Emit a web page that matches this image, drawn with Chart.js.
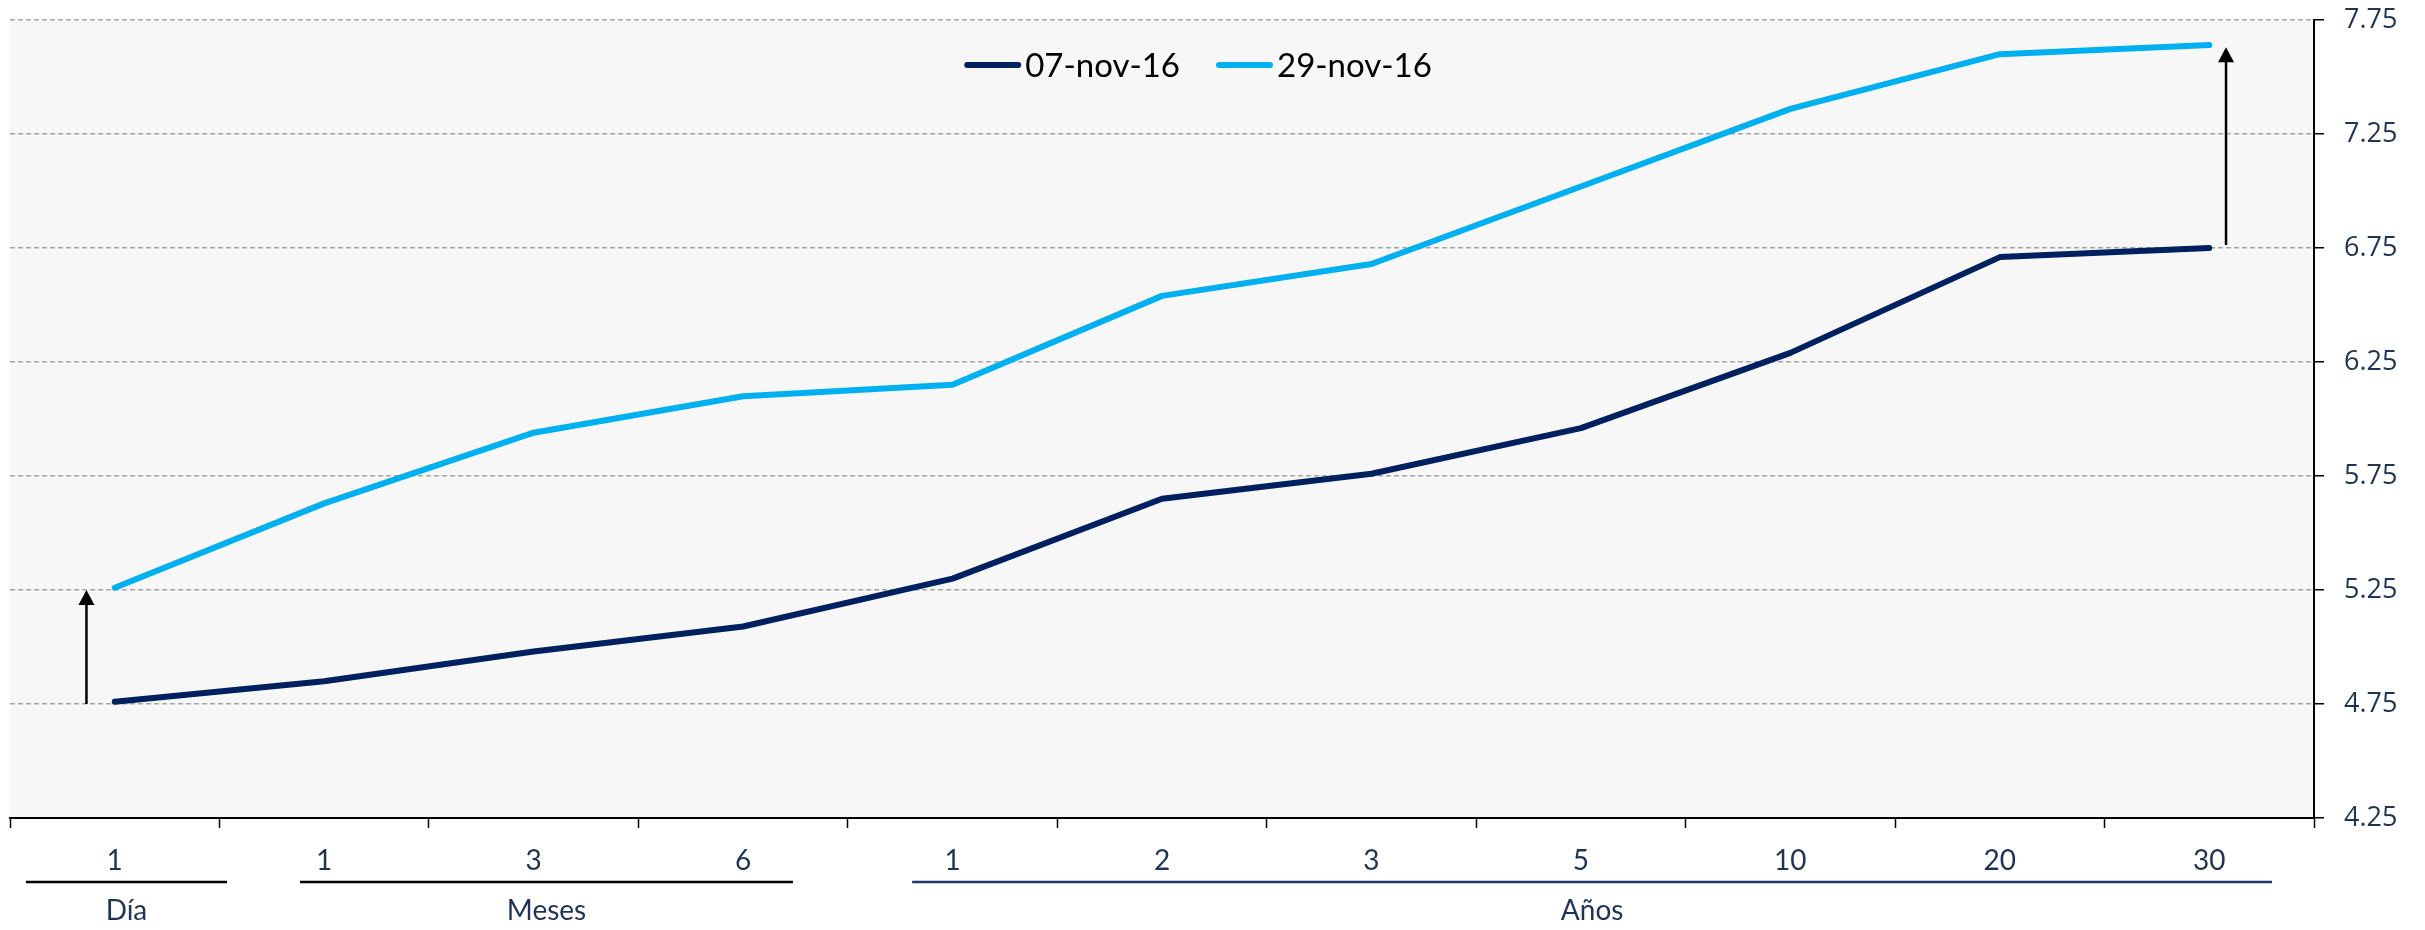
<!DOCTYPE html>
<html lang="es">
<head>
<meta charset="utf-8">
<title>Curva de rendimientos</title>
<script src="https://cdn.jsdelivr.net/npm/chart.js@4.4.1/dist/chart.umd.min.js"></script>
<style>
  html, body { margin: 0; padding: 0; background: #ffffff; }
  #wrap { width: 2425px; height: 930px; }
</style>
</head>
<body>
<div id="wrap"><canvas id="chart" width="2425" height="930"></canvas></div>
<script>
// Plazos (etiquetas del eje horizontal)
const plazos = ['1', '1', '3', '6', '1', '2', '3', '5', '10', '20', '30'];

// Agrupación de los plazos
const grupos = ['Día', 'Meses', 'Años'];

// Series de tasas (%)
const serieNombres = ['07-nov-16', '29-nov-16'];
const tasas07nov = [4.76, 4.85, 4.98, 5.09, 5.30, 5.65, 5.76, 5.96, 6.29, 6.71, 6.75];
const tasas29nov = [5.26, 5.63, 5.94, 6.10, 6.15, 6.54, 6.68, 7.02, 7.36, 7.60, 7.64];

// Eje vertical
const ejeMin = 4.25;
const ejeMax = 7.75;
const ejePaso = 0.5;

const NAVY_TEXT = '#1F3356';
const COLOR_07 = '#002060';
const COLOR_29 = '#00B0F0';

// Fondo blanco y área de trazado gris claro
const fondoPlugin = {
  id: 'fondo',
  beforeDraw(chart) {
    const { ctx, chartArea: a } = chart;
    ctx.save();
    ctx.fillStyle = '#ffffff';
    ctx.fillRect(0, 0, chart.width, chart.height);
    ctx.fillStyle = '#F7F7F7';
    ctx.fillRect(a.left, a.top, a.right - a.left, a.bottom - a.top);
    ctx.restore();
  }
};

// Leyenda dibujada dentro del área de trazado
const leyendaPlugin = {
  id: 'leyendaInterna',
  afterDraw(chart, args, opts) {
    const { ctx } = chart;
    ctx.save();
    ctx.font = opts.font;
    const items = chart.data.datasets.map(ds => ({
      text: ds.label, color: ds.borderColor, w: ctx.measureText(ds.label).width
    }));
    const total = items.reduce((s, it) => s + opts.sample + opts.gap + it.w, 0) + opts.spacing * (items.length - 1);
    let x = opts.centerX - total / 2;
    const y = opts.y;
    items.forEach(it => {
      ctx.strokeStyle = it.color;
      ctx.lineWidth = 6;
      ctx.lineCap = 'round';
      ctx.beginPath();
      ctx.moveTo(x + 3, y);
      ctx.lineTo(x + opts.sample - 3, y);
      ctx.stroke();
      x += opts.sample + opts.gap;
      ctx.fillStyle = '#000000';
      ctx.textAlign = 'left';
      ctx.textBaseline = 'middle';
      ctx.fillText(it.text, x, y + 1);
      x += it.w + opts.spacing;
    });
    ctx.restore();
  }
};

// Flechas que marcan el desplazamiento de la curva
const flechasPlugin = {
  id: 'flechas',
  afterDatasetsDraw(chart, args, opts) {
    const { ctx, scales: { x, y } } = chart;
    ctx.save();
    ctx.strokeStyle = '#000000';
    ctx.fillStyle = '#000000';
    ctx.lineWidth = 2.5;
    opts.items.forEach(f => {
      const px = x.getPixelForValue(f.at);
      const y0 = y.getPixelForValue(f.from);
      const y1 = y.getPixelForValue(f.to);
      const head = 15, half = 8;
      ctx.beginPath();
      ctx.moveTo(px, y0);
      ctx.lineTo(px, y1 + head - 1);
      ctx.stroke();
      ctx.beginPath();
      ctx.moveTo(px, y1);
      ctx.lineTo(px - half, y1 + head);
      ctx.lineTo(px + half, y1 + head);
      ctx.closePath();
      ctx.fill();
    });
    ctx.restore();
  }
};

// Rótulos de grupo (Día / Meses / Años) con su línea
const gruposPlugin = {
  id: 'grupos',
  afterDraw(chart, args, opts) {
    const { ctx, scales: { x } } = chart;
    ctx.save();
    opts.spans.forEach((s, i) => {
      const x0 = x.getPixelForValue(s.from);
      const x1 = x.getPixelForValue(s.to);
      ctx.strokeStyle = s.color;
      ctx.lineWidth = 2.5;
      ctx.beginPath();
      ctx.moveTo(x0, opts.lineY);
      ctx.lineTo(x1, opts.lineY);
      ctx.stroke();
      ctx.fillStyle = NAVY_TEXT;
      ctx.font = opts.font;
      ctx.textAlign = 'center';
      ctx.textBaseline = 'middle';
      ctx.fillText(grupos[i], (x0 + x1) / 2, opts.textY);
    });
    ctx.restore();
  }
};

function dibujar() {
  const ctx = document.getElementById('chart').getContext('2d');
  new Chart(ctx, {
    type: 'line',
    data: {
      labels: plazos,
      datasets: [
        {
          label: serieNombres[0],
          data: tasas07nov,
          borderColor: COLOR_07,
          backgroundColor: COLOR_07,
          borderWidth: 6,
          borderCapStyle: 'round',
          borderJoinStyle: 'round',
          pointRadius: 0,
          tension: 0,
          fill: false
        },
        {
          label: serieNombres[1],
          data: tasas29nov,
          borderColor: COLOR_29,
          backgroundColor: COLOR_29,
          borderWidth: 6,
          borderCapStyle: 'round',
          borderJoinStyle: 'round',
          pointRadius: 0,
          tension: 0,
          fill: false
        }
      ]
    },
    options: {
      responsive: false,
      animation: false,
      layout: { padding: { left: 10, top: 20, right: 0, bottom: 0 } },
      plugins: {
        legend: { display: false },
        tooltip: { enabled: false },
        leyendaInterna: {
          font: '33px Lato',
          centerX: 1198,
          y: 65,
          sample: 57,
          gap: 4,
          spacing: 36
        },
        flechas: {
          items: [
            { at: -0.135, from: 4.75, to: 5.25 },
            { at: 10.08, from: 6.763, to: 7.63 }
          ]
        },
        grupos: {
          font: '28px Lato',
          lineY: 882,
          textY: 911,
          spans: [
            { from: -0.424, to: 0.536, color: '#000000' },
            { from: 0.885, to: 3.238, color: '#000000' },
            { from: 3.807, to: 10.30, color: '#1F3864' }
          ]
        }
      },
      scales: {
        x: {
          type: 'category',
          offset: true,
          grid: {
            display: true,
            offset: true,
            drawOnChartArea: false,
            drawTicks: true,
            tickLength: 10,
            tickColor: '#000000',
            tickWidth: 1.5
          },
          border: { display: true, color: '#000000', width: 2 },
          ticks: {
            color: NAVY_TEXT,
            font: { family: 'Lato', size: 28 },
            padding: 16,
            maxRotation: 0,
            autoSkip: false
          },
          afterFit(scale) { scale.height = 112; }
        },
        y: {
          type: 'linear',
          position: 'right',
          min: ejeMin,
          max: ejeMax,
          grid: {
            color: '#A6A6A6',
            lineWidth: 1.5,
            drawTicks: true,
            tickLength: 10,
            tickColor: '#000000',
            tickWidth: 1.5,
            tickBorderDash: []
          },
          border: { display: true, color: '#000000', width: 2, dash: [5, 3] },
          ticks: {
            stepSize: ejePaso,
            color: NAVY_TEXT,
            font: { family: 'Open Sans', size: 27 },
            padding: 20,
            callback: v => Number(v).toFixed(2)
          },
          afterFit(scale) {
            scale.width = 111;
            scale.paddingTop = 0;
            scale.paddingBottom = 0;
          }
        }
      }
    },
    plugins: [fondoPlugin, flechasPlugin, gruposPlugin, leyendaPlugin]
  });
}

const fuentes = ['28px Lato', '33px Lato', '27px "Open Sans"'];
Promise.all(fuentes.map(f => document.fonts.load(f))).then(dibujar, dibujar);
</script>
</body>
</html>
